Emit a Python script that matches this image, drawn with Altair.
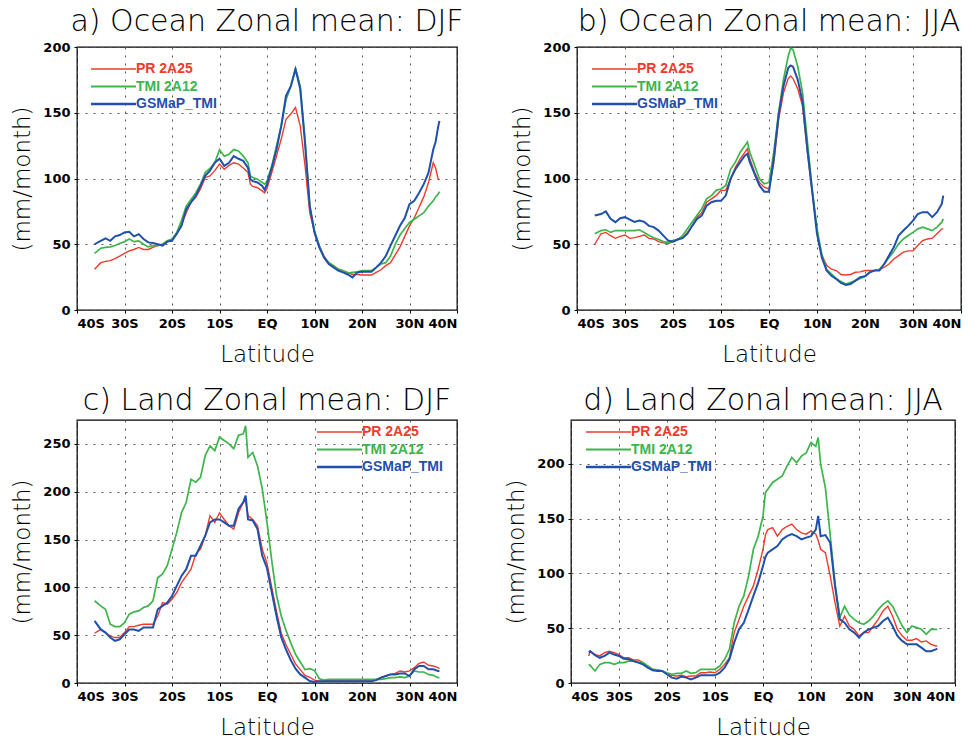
import altair as alt
import pandas as pd

SERIES = ["PR  2A25", "TMI 2A12", "GSMaP_TMI"]
COLORS = ["#ef3b2c", "#3db54a", "#1f50ad"]
WIDTHS = [1.4, 2.0, 2.4]
X_TICKS = [-40, -30, -20, -10, 0, 10, 20, 30, 40]
X_LABELS = ["40S", "30S", "20S", "10S", "EQ", "10N", "20N", "30N", "40N"]

# ---------------- a) Ocean DJF ----------------
A_LAT = [-36.3] + list(range(-35, -3)) + [-3.5, -3, -2, -1, -0.5] + list(range(0, 36)) + [35.5, 36, 36.3]
A_PR = [31, 36, 37, 37.5, 39, 41, 43, 45, 46, 47.6, 46, 46, 47.6, 49, 50, 52, 54, 58, 65, 74, 82, 85.6, 92, 100.8,
        102, 106, 111, 107, 110, 112, 111, 108, 104.5, 95.7, 94, 93, 90.6, 89, 92.4, 104.5, 117, 130, 145, 149, 154,
        140, 110, 74, 59, 49, 41, 36, 33.7, 31, 30, 28.6, 27, 27, 26.6, 26.6, 26.6, 28.6, 30.6, 33.7, 36, 42, 48, 56,
        64, 70, 78, 86, 97, 112, 108, 100, 99]
A_TMI = [43, 47, 47.6, 48, 49, 50.6, 52, 54, 52, 52.6, 50, 48, 49, 49, 50, 52.6, 54, 59, 68, 79, 84, 89, 95.7, 104.5,
         107.6, 112, 121.8, 117, 118.5, 122, 121, 117, 112, 102, 100.8, 99.5, 97, 95.7, 98, 109.6, 124.8, 140, 160,
         170, 184, 170, 130, 79, 60, 49, 40, 36, 33.7, 31, 30, 28, 28.6, 29, 30, 30, 30, 32.4, 35, 36, 41, 50, 57, 62,
         66.6, 69, 71.6, 74, 79, 83, 86, 88, 90]
A_GSM = [50, 52.6, 54.4, 52.6, 56, 57, 59, 59.5, 56, 57.7, 54, 51.4, 51, 50, 49, 52, 52.6, 58, 64, 76.7, 81.8, 86.8,
         94.4, 102, 106, 112, 115, 109.6, 112, 117, 115, 113.4, 108, 99.5, 98, 97, 94.4, 91.4, 95.7, 108, 122, 140,
         162.8, 170, 183, 168, 127, 79, 59, 47.6, 40, 35, 32.4, 30, 28.6, 27, 24.8, 28.6, 29, 29, 29, 32.4, 36, 41, 49,
         56.5, 64, 70, 80.5, 83, 89, 95.7, 104.5, 122, 128, 138.7, 143.8]

# ---------------- b) Ocean JJA ----------------
B_LAT = [-36.3] + list(range(-35, -4)) + [-4.5] + list(range(-4, 5)) + [4.5] + list(range(5, 37)) + [36.3]
B_PR = [50, 58, 59, 56.5, 54.5, 56, 57, 54.5, 55, 56, 57, 54.5, 54, 52, 51, 50.3, 52, 54, 55, 59, 64, 70.5, 74, 82,
        84.5, 87, 91, 91, 99.7, 108.6, 115, 120, 122.6, 115, 104.8, 97, 93.4, 92, 112, 145, 165, 176, 178, 176, 168,
        155, 120, 90, 60, 42, 34, 31, 30, 27, 26.6, 27, 28.7, 29, 30, 30, 30, 30.7, 32.5, 35, 38.8, 41.4, 44, 45, 45,
        49, 52.8, 54, 54.6, 58, 61.7, 61.7]
B_TMI = [58, 60.4, 61, 59, 60.4, 60.4, 60.4, 60.4, 60.4, 61, 59, 56.6, 55, 53.6, 52, 51.5, 52.8, 53.6, 56.6, 61.7, 67,
         72, 77, 84.5, 87, 91, 92, 94.7, 107, 112.4, 120, 125, 127.7, 120, 110, 99.7, 96, 97, 120, 150, 175, 193, 199,
         198, 185, 165, 128, 92, 62, 42, 31, 27.4, 24, 21.6, 19.8, 21, 22.3, 24, 25.6, 29, 30, 31, 35, 40, 44.4, 50.3,
         54, 56.6, 59, 61.7, 63, 61.7, 60.4, 63, 66.8, 69.3]
B_GSM = [71.8, 73, 75, 69.3, 66.8, 69.8, 70.6, 68.8, 67, 68, 67, 64, 63, 60.4, 56.6, 52.8, 52, 53.6, 54.6, 58, 64,
         69.3, 71.8, 79.4, 82, 83, 83, 87, 99.7, 107, 112.4, 117.5, 118.8, 112.4, 103.5, 94.7, 90, 90, 115, 148, 170,
         184, 186, 185, 175, 158, 122, 90, 58, 40, 30, 26, 23.6, 20.6, 19, 19.8, 22.3, 24.9, 25.6, 28.7, 30, 30, 35,
         41.4, 47.7, 56.6, 60.4, 64, 68, 73, 74.4, 74.4, 70.6, 74.4, 80.7, 87]

# ---------------- c) Land DJF ----------------
C_LAT = [-36.3] + list(range(-35, -4)) + [-4.5] + list(range(-4, 37)) + [36.3]
C_PR = [52, 56, 52.7, 49, 47.5, 47.5, 52.7, 59, 59, 60.4, 61.5, 61.5, 61.5, 70, 84, 82.4, 87.6, 94.6, 105, 112, 119,
        134.8, 140, 154, 175, 168, 178, 171, 164.5, 161, 178, 189, 190.6, 175, 171, 164.5, 140, 125, 100, 75, 52, 40,
        30, 20, 14, 8, 6, 3, 2, 2, 3, 3, 3, 3, 3, 3, 3, 3, 3, 3, 3.8, 5.6, 7.3, 9, 10, 12.6, 11.5, 12.6, 16, 20.6, 22,
        18.5, 17.8, 16, 15]
C_TMI = [86, 80.6, 77, 61.5, 59, 59, 63, 72, 74.4, 75.4, 79, 80.6, 86, 110, 114, 122.6, 140, 157.5, 178, 189, 213,
         210, 215, 238, 248, 243, 257, 253.5, 250, 245, 259, 260.5, 269, 236, 241, 227, 203, 168, 128, 92, 70, 55, 42,
         30, 22, 14, 15, 13, 4.5, 3, 3.8, 3.8, 3.8, 3.8, 3.8, 3.8, 3.8, 3.8, 3.8, 3.8, 3.8, 3.8, 4.5, 5.6, 5.6, 6.3,
         5.6, 7.3, 12.6, 11.5, 11.5, 9, 8, 5.6, 5.6]
C_GSM = [65, 56, 52.7, 47.5, 44, 45.7, 51, 56, 56, 54.5, 58, 58, 58, 77, 80.6, 84, 91, 101.6, 112, 119, 133, 133,
         143.5, 154, 168, 171, 171, 168, 164.5, 164.5, 182, 189, 196, 171, 170, 161, 133, 120, 95, 70, 48, 35, 24, 15,
         9, 5.6, 2, 1, 1.7, 1.7, 1.7, 1.7, 1.7, 1.7, 1.7, 1.7, 1.7, 1.7, 1.7, 1.7, 3, 5.6, 7.3, 9, 9, 10, 10, 7.3,
         14.3, 17.8, 17.8, 14.3, 14.3, 12.6, 12.6]

# ---------------- d) Land JJA ----------------
D_LAT = [-36.3] + list(range(-36, 1)) + [0.5] + list(range(1, 12)) + [11.5] + list(range(12, 37)) + [36.3]
D_PR = [24.7, 29, 26, 24.7, 27.7, 29, 27.7, 26, 23, 23, 21, 21, 18.6, 14, 12.5, 12, 11, 8, 7, 6.4, 7, 5.8, 6.4, 6.4,
        9.4, 9.4, 10, 9.4, 12.5, 17, 23, 46, 58, 70, 79.5, 88.6, 104, 122, 135, 140, 141.8, 134, 140, 143, 145, 140,
        137, 135.8, 138.8, 135.8, 130, 122, 119, 97.7, 73.4, 52, 61, 52, 49, 43, 46, 46, 52, 58, 65.8, 70, 61, 49, 43,
        39, 39, 40.5, 37.4, 38.4, 35.3, 33.8, 33.8]
D_TMI = [17, 16, 11, 17, 18.6, 18.6, 17, 18.6, 18.6, 20, 20, 19, 18.6, 15.5, 12.5, 12, 11, 9.4, 8, 8.8, 8.8, 11, 8.8,
         9.4, 12.5, 12.5, 12.5, 12.5, 15.5, 21.6, 30.7, 55, 70, 79.5, 97.7, 122, 134, 152.5, 173.8, 176.9, 183, 186,
         189, 198, 205.8, 201, 207, 210, 219.5, 216, 224, 200, 178, 135, 91, 60, 70, 62, 58, 55, 53.6, 56.6, 61, 67,
         71.8, 74.9, 70, 61, 52, 46, 52, 50.5, 49, 44.4, 49, 49, 49]
D_GSM = [27.7, 29, 25.3, 23, 24.7, 27.7, 26, 24.7, 22.2, 21.6, 20, 18.6, 17, 14, 11.6, 11, 11, 8, 4.9, 4, 5.8, 4.9,
         3.3, 4.9, 7, 7, 7, 7, 9.4, 14, 21.6, 36.8, 49, 55, 67, 79.5, 91.6, 106.8, 115, 119, 122, 125, 131, 134, 135.8,
         134, 131, 132.7, 134, 140, 152.5, 134, 135, 128, 88.6, 58, 55, 49, 46, 41.4, 46, 49, 50.5, 52, 56.6, 59.7, 52,
         43, 38.4, 35.3, 35.3, 35.3, 32.3, 29, 29, 30.7, 31.4]

for lat, arrs in [(A_LAT, (A_PR, A_TMI, A_GSM)), (B_LAT, (B_PR, B_TMI, B_GSM)),
                  (C_LAT, (C_PR, C_TMI, C_GSM)), (D_LAT, (D_PR, D_TMI, D_GSM))]:
    for a in arrs:
        assert len(a) == len(lat), (len(a), len(lat))

LABEL_EXPR = " : ".join(f"datum.value == {v} ? '{l}'" for v, l in zip(X_TICKS, X_LABELS)) + " : ''"

FONT = "DejaVu Sans"


def panel(title, lat, pr, tmi, gsm, ymax, yticks, leg_x, leg_y, w, h=263):
    df = pd.DataFrame({
        "lat": list(lat) * 3,
        "val": list(pr) + list(tmi) + list(gsm),
        "series": [SERIES[0]] * len(lat) + [SERIES[1]] * len(lat) + [SERIES[2]] * len(lat),
        "ord": [0] * len(lat) + [1] * len(lat) + [2] * len(lat),
    })
    lines = alt.Chart(df).mark_line(strokeJoin="miter").encode(
        x=alt.X("lat:Q", scale=alt.Scale(domain=[-40, 40], nice=False, zero=False),
                axis=alt.Axis(values=X_TICKS, labelExpr=LABEL_EXPR, title="Latitude")),
        y=alt.Y("val:Q", scale=alt.Scale(domain=[0, ymax], nice=False),
                axis=alt.Axis(values=yticks, title="(mm/month)")),
        color=alt.Color("series:N", scale=alt.Scale(domain=SERIES, range=COLORS), legend=None),
        strokeWidth=alt.StrokeWidth("series:N", scale=alt.Scale(domain=SERIES, range=WIDTHS), legend=None),
        order=alt.Order("ord:Q"),
    )
    layers = [lines]
    for i, s in enumerate(SERIES):
        one = pd.DataFrame({"series": [s]})
        yy = leg_y + i * 17.5
        layers.append(alt.Chart(one).mark_rule(strokeWidth=WIDTHS[i], color=COLORS[i]).encode(
            x=alt.value(leg_x), x2=alt.value(leg_x + 45), y=alt.value(yy)))
        layers.append(alt.Chart(one).mark_text(align="left", baseline="middle", font="Liberation Sans",
                                               fontWeight="bold", fontSize=14, color=COLORS[i]).encode(
            x=alt.value(leg_x + 45), y=alt.value(yy), text=alt.Text("series:N")))
    return alt.layer(*layers).properties(
        width=w, height=h,
        title=alt.TitleParams(title, font=FONT, fontSize=30, fontWeight=300, color="black",
                              anchor="middle", offset=4),
    )


pa = panel("a) Ocean Zonal mean: DJF", A_LAT, A_PR, A_TMI, A_GSM, 200, [0, 50, 100, 150, 200], 14, 22, 380)
pb = panel("b) Ocean Zonal mean: JJA", B_LAT, B_PR, B_TMI, B_GSM, 200, [0, 50, 100, 150, 200], 15, 22, 384)
pc = panel("c) Land Zonal mean: DJF", C_LAT, C_PR, C_TMI, C_GSM, 275, [0, 50, 100, 150, 200, 250], 240, 12, 380)
pd_ = panel("d) Land Zonal mean: JJA", D_LAT, D_PR, D_TMI, D_GSM, 240, [0, 50, 100, 150, 200], 15, 12, 384)

chart = alt.vconcat(
    alt.hconcat(pa, pb, spacing=46),
    alt.hconcat(pc, pd_, spacing=46),
    spacing=18,
).properties(
    padding={"left": 11, "top": 6, "right": 0, "bottom": 0},
    background="white",
).configure_view(
    stroke="black", strokeWidth=1.3,
).configure_axis(
    labelFont=FONT, labelFontWeight="bold", labelFontSize=13, labelColor="black",
    titleFont=FONT, titleFontWeight=300, titleFontSize=23, titleColor="black",
    domain=False, tickColor="black", tickSize=3, labelPadding=4,
    grid=True, gridColor="#555555", gridDash=[2, 6], gridWidth=1, gridOpacity=1,
).configure_axisY(titlePadding=8).configure_axisX(titlePadding=13)

chart.save("out.html", embed_options={"renderer": "svg", "actions": False})
